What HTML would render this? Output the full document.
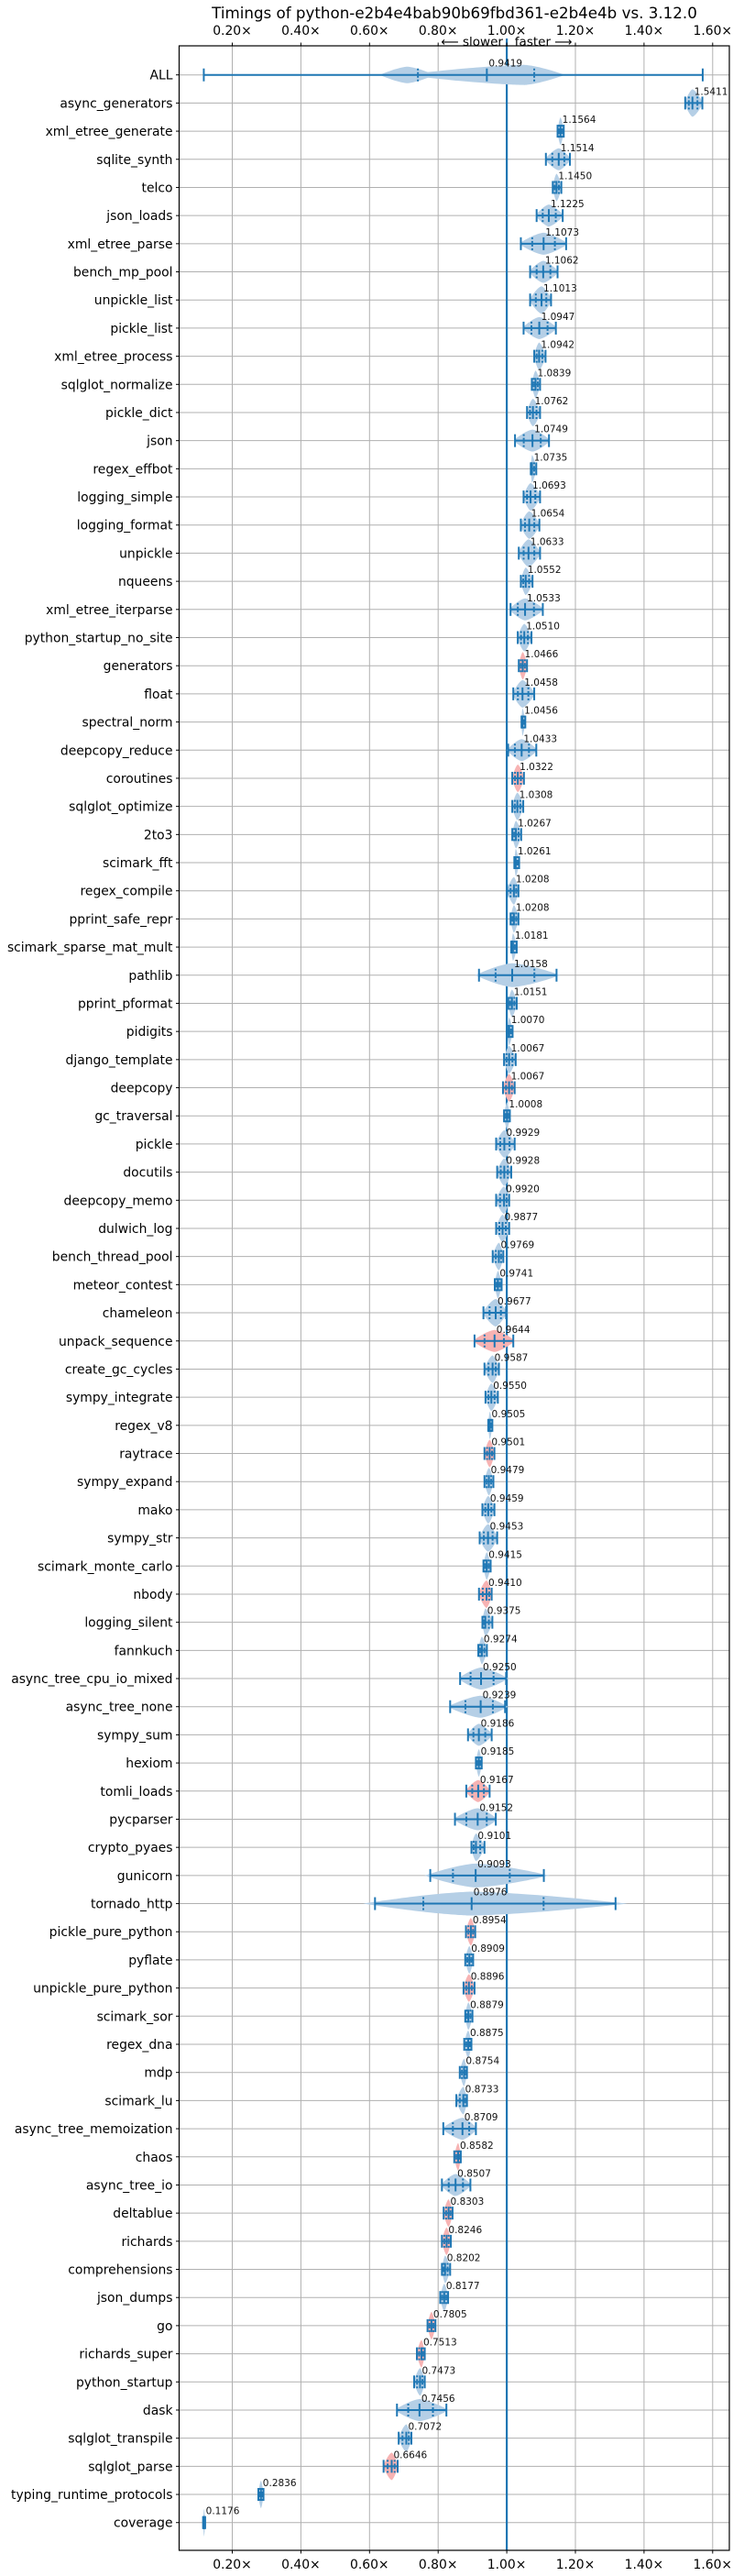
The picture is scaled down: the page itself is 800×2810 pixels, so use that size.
<!DOCTYPE html>
<html><head><meta charset="utf-8"><style>
html,body{margin:0;padding:0;background:#fff;}
svg{display:block;font-family:"DejaVu Sans","Liberation Sans",sans-serif;}
</style></head><body>
<svg id="chart" width="800" height="2810" viewBox="0 0 800 2810" xmlns="http://www.w3.org/2000/svg">
<text x="496" y="20" font-size="16.7" text-anchor="middle">Timings of python-e2b4e4bab90b69fbd361-e2b4e4b vs. 3.12.0</text>
<g id="grid"></g><g id="marks"></g><g id="axes"></g>
<text x="553" y="50" font-size="13.5" text-anchor="middle">⟵ slower &#160;&#160;faster ⟶</text>
</svg>
<script>
const names=["ALL","async_generators","xml_etree_generate","sqlite_synth","telco","json_loads","xml_etree_parse","bench_mp_pool","unpickle_list","pickle_list","xml_etree_process","sqlglot_normalize","pickle_dict","json","regex_effbot","logging_simple","logging_format","unpickle","nqueens","xml_etree_iterparse","python_startup_no_site","generators","float","spectral_norm","deepcopy_reduce","coroutines","sqlglot_optimize","2to3","scimark_fft","regex_compile","pprint_safe_repr","scimark_sparse_mat_mult","pathlib","pprint_pformat","pidigits","django_template","deepcopy","gc_traversal","pickle","docutils","deepcopy_memo","dulwich_log","bench_thread_pool","meteor_contest","chameleon","unpack_sequence","create_gc_cycles","sympy_integrate","regex_v8","raytrace","sympy_expand","mako","sympy_str","scimark_monte_carlo","nbody","logging_silent","fannkuch","async_tree_cpu_io_mixed","async_tree_none","sympy_sum","hexiom","tomli_loads","pycparser","crypto_pyaes","gunicorn","tornado_http","pickle_pure_python","pyflate","unpickle_pure_python","scimark_sor","regex_dna","mdp","scimark_lu","async_tree_memoization","chaos","async_tree_io","deltablue","richards","comprehensions","json_dumps","go","richards_super","python_startup","dask","sqlglot_transpile","sqlglot_parse","typing_runtime_protocols","coverage"];
const medians=[0.9419,1.5411,1.1564,1.1514,1.1450,1.1225,1.1073,1.1062,1.1013,1.0947,1.0942,1.0839,1.0762,1.0749,1.0735,1.0693,1.0654,1.0633,1.0552,1.0533,1.0510,1.0466,1.0458,1.0456,1.0433,1.0322,1.0308,1.0267,1.0261,1.0208,1.0208,1.0181,1.0158,1.0151,1.0070,1.0067,1.0067,1.0008,0.9929,0.9928,0.9920,0.9877,0.9769,0.9741,0.9677,0.9644,0.9587,0.9550,0.9505,0.9501,0.9479,0.9459,0.9453,0.9415,0.9410,0.9375,0.9274,0.9250,0.9239,0.9186,0.9185,0.9167,0.9152,0.9101,0.9093,0.8976,0.8954,0.8909,0.8896,0.8879,0.8875,0.8754,0.8733,0.8709,0.8582,0.8507,0.8303,0.8246,0.8202,0.8177,0.7805,0.7513,0.7473,0.7456,0.7072,0.6646,0.2836,0.1176];
const lows=[0.117,1.520,1.148,1.114,1.134,1.087,1.041,1.068,1.068,1.049,1.080,1.073,1.059,1.024,1.070,1.049,1.041,1.035,1.041,1.011,1.032,1.035,1.019,1.043,1.004,1.016,1.016,1.016,1.022,1.001,1.011,1.013,0.919,1.004,1.002,0.992,0.989,0.992,0.969,0.972,0.969,0.969,0.959,0.965,0.932,0.906,0.935,0.938,0.946,0.935,0.935,0.929,0.921,0.932,0.919,0.929,0.917,0.864,0.835,0.887,0.910,0.882,0.849,0.897,0.777,0.616,0.881,0.879,0.874,0.879,0.876,0.863,0.853,0.815,0.847,0.811,0.816,0.811,0.811,0.806,0.769,0.738,0.730,0.680,0.685,0.641,0.276,0.115];
const highs=[1.571,1.570,1.166,1.184,1.159,1.163,1.173,1.148,1.129,1.143,1.113,1.097,1.097,1.123,1.086,1.097,1.095,1.097,1.075,1.105,1.072,1.059,1.080,1.054,1.086,1.050,1.048,1.042,1.036,1.034,1.034,1.029,1.145,1.029,1.017,1.026,1.023,1.009,1.023,1.013,1.007,1.007,0.990,0.985,0.998,1.019,0.977,0.974,0.958,0.964,0.961,0.964,0.972,0.953,0.956,0.958,0.942,0.998,0.995,0.956,0.927,0.950,0.968,0.935,1.108,1.317,0.908,0.902,0.906,0.900,0.897,0.884,0.884,0.910,0.866,0.894,0.842,0.837,0.835,0.829,0.792,0.761,0.761,0.824,0.722,0.682,0.291,0.121];
const redRows=["generators","coroutines","deepcopy","unpack_sequence","raytrace","nbody","tomli_loads","pickle_pure_python","unpickle_pure_python","chaos","deltablue","richards","go","richards_super","sqlglot_parse"];
const allViolinRange=[0.70,1.17];
const allLobe=[0.63,0.79];
const allQuartiles=[0.741,1.08];
const xTicks=[0.2,0.4,0.6,0.8,1.0,1.2,1.4,1.6];
const xTickLabels=["0.20×","0.40×","0.60×","0.80×","1.00×","1.20×","1.40×","1.60×"];

const NS="http://www.w3.org/2000/svg";
const L=195.5,R=796,T=50,B=2782;
const X=v=>253.5+(v-0.2)*374.5;
const Y=i=>81.7+i*30.69;
function mk(parent,tag,attrs,txt){const e=document.createElementNS(NS,tag);for(const k in attrs)e.setAttribute(k,attrs[k]);if(txt!==undefined)e.textContent=txt;parent.appendChild(e);return e;}
function lens(g,a,b,c,y,h,fill){
  mk(g,'path',{d:`M${a},${y} C${c-(c-a)*0.3},${y-h} ${c},${y-h} ${c},${y-h} C${c},${y-h} ${c+(b-c)*0.3},${y-h} ${b},${y} C${c+(b-c)*0.3},${y+h} ${c},${y+h} ${c},${y+h} C${c},${y+h} ${c-(c-a)*0.3},${y+h} ${a},${y} Z`,fill:fill});
}
const grid=document.getElementById('grid'),marks=document.getElementById('marks'),axes=document.getElementById('axes');
xTicks.forEach((t,k)=>{
  const g=mk(grid,'line',{x1:X(t),x2:X(t),y1:T,y2:B,stroke:'#b0b0b0','stroke-width':1});
  
  
  [[T,T-3.5,T-12],[B,B+3.5,B+20]].forEach(([a,b,ty])=>{
    mk(axes,'line',{x1:X(t),x2:X(t),y1:a,y2:b,stroke:'#000','stroke-width':1});
    const tl=mk(axes,'text',{x:X(t),y:ty,'font-size':13.9,'text-anchor':'middle'},xTickLabels[k]);
    
    
  });
});
names.forEach((n,i)=>{
  const y=Y(i);
  const g=mk(grid,'line',{x1:L,x2:R,y1:y,y2:y,stroke:'#b0b0b0','stroke-width':1});
  
  
  mk(axes,'line',{x1:L,x2:L-3.5,y1:y,y2:y,stroke:'#000','stroke-width':1});
  const t=mk(axes,'text',{x:L-7,y:y+5,'font-size':13.9,'text-anchor':'end'},n);
  
  
});
const ref=mk(marks,'line',{x1:X(1),x2:X(1),y1:42,y2:B,stroke:'#1f77b4','stroke-width':2.2});


names.forEach((n,i)=>{
  const y=Y(i),m=medians[i],lo=lows[i],hi=highs[i];
  const red=redRows.includes(n);
  const fill=red?'#f7b3b3':'#b5cfe6';
  const x0=X(lo),x1=X(hi),xm=X(m),w=x1-x0;
  const g=mk(marks,'g',{});
  
  
  let q1,q3;
  if(i===0){
    lens(g,X(allViolinRange[0]),X(allViolinRange[1]),X(1.05),y,11,fill);
    lens(g,X(allLobe[0]),X(allLobe[1]),X((allLobe[0]+allLobe[1])/2),y,9,fill);
    q1=X(allQuartiles[0]);q3=X(allQuartiles[1]);
  } else {
    const h=w>60?13:(w>25?12:15);
    lens(g,x0-w*0.05,x1+w*0.05,xm,y,h,fill);
    q1=xm-(xm-x0)*0.5;q3=xm+(x1-xm)*0.5;
  }
  mk(g,'line',{x1:x0,x2:x1,y1:y,y2:y,stroke:'#1f77b4','stroke-width':2});
  [x0,x1].forEach(xx=>mk(g,'line',{x1:xx,x2:xx,y1:y-7,y2:y+7,stroke:'#1f77b4','stroke-width':2}));
  mk(g,'line',{x1:xm,x2:xm,y1:y-7,y2:y+7,stroke:'#1f77b4','stroke-width':2});
  [q1,q3].forEach(xx=>mk(g,'line',{x1:xx,x2:xx,y1:y-7,y2:y+7,stroke:'#1f77b4','stroke-width':2,'stroke-dasharray':'2,2'}));
  const vt=mk(marks,'text',{x:xm+2,y:y-9,'font-size':10.5,fill:'#111'},m.toFixed(4));
  
  
});
mk(axes,'rect',{x:L,y:T,width:R-L,height:B-T,fill:'none',stroke:'#000','stroke-width':1.2});
</script>
</body></html>
